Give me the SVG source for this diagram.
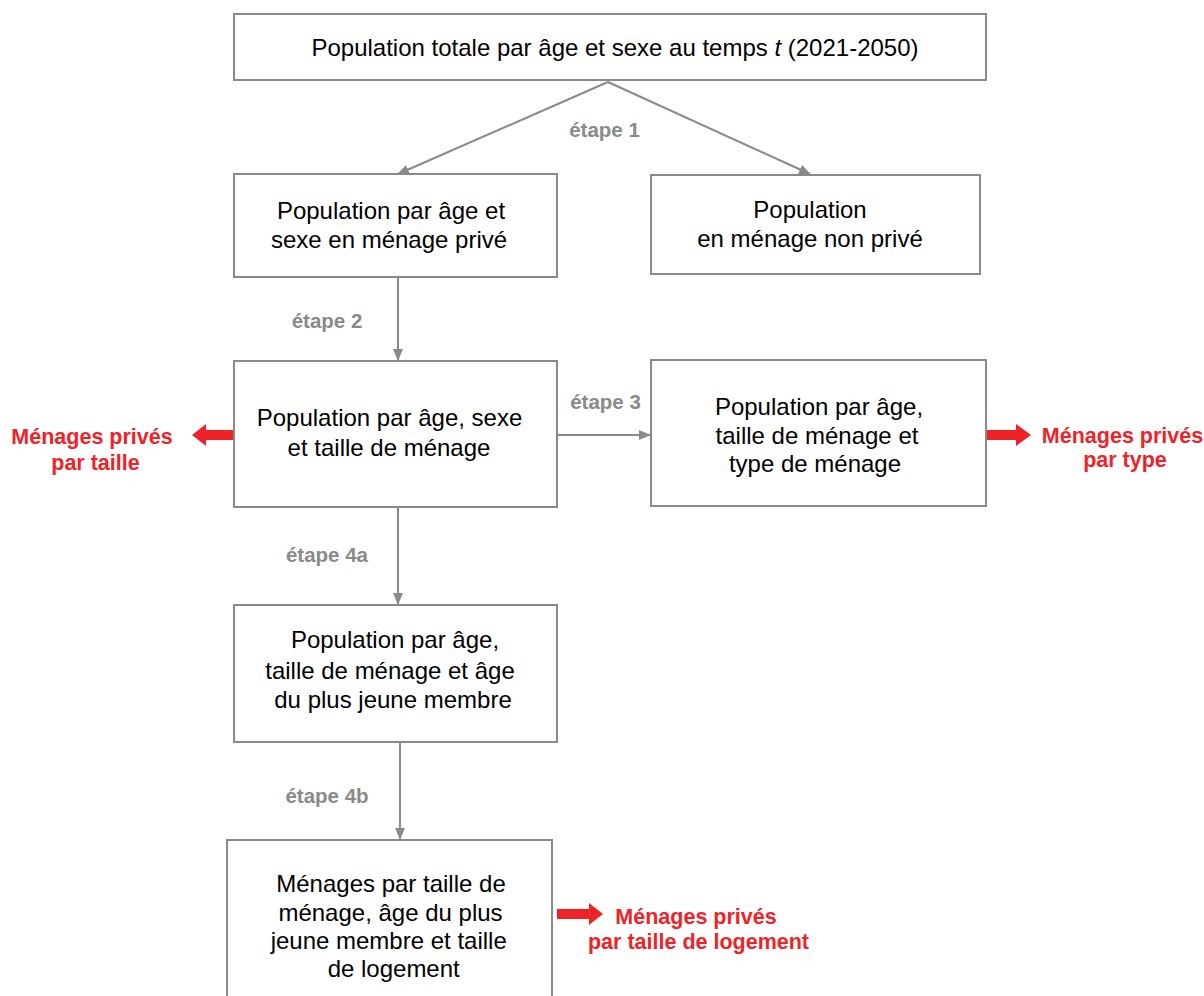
<svg xmlns="http://www.w3.org/2000/svg" width="1204" height="996" viewBox="0 0 1204 996">
<style>
.box{fill:#fff;stroke:#8a8a8a;stroke-width:2}
.t{font-family:"Liberation Sans",Arial,sans-serif;font-size:24px;fill:#000;text-anchor:middle}
.lbl{font-family:"Liberation Sans",Arial,sans-serif;font-size:20.5px;font-weight:bold;fill:#8a8a8a;text-anchor:middle}
.red{font-family:"Liberation Sans",Arial,sans-serif;font-size:21.5px;font-weight:bold;fill:#ee2328;text-anchor:middle}
.conn{stroke:#8a8a8a;stroke-width:2;fill:none;marker-end:url(#ah)}
.rarr{fill:#ee2328}
</style>
<defs>
<marker id="ah" markerWidth="12" markerHeight="10" refX="11" refY="5" orient="auto" markerUnits="userSpaceOnUse">
<path d="M0,0 L12,5 L0,10 z" fill="#8a8a8a"/>
</marker>
</defs>
<rect width="1204" height="996" fill="#fff"/>
<g id="connectors">
<path class="conn" d="M608,82 L398,174"/>
<path class="conn" d="M608,82 L810,174"/>
<path class="conn" d="M398,277 L398,360"/>
<path class="conn" d="M557,435 L650,435"/>
<path class="conn" d="M398,507 L398,604"/>
<path class="conn" d="M400,742 L400,839"/>
<text class="lbl" x="604.5" y="137">étape 1</text>
<text class="lbl" x="327" y="328">étape 2</text>
<text class="lbl" x="605.5" y="409">étape 3</text>
<text class="lbl" x="327" y="562">étape 4a</text>
<text class="lbl" x="327" y="803">étape 4b</text>
<path class="rarr" d="M234,430 L206,430 L206,424 L192,435 L206,446 L206,440 L234,440 z"/>
<path class="rarr" d="M986,430 L1016,430 L1016,424 L1031,435 L1016,446 L1016,440 L986,440 z"/>
<path class="rarr" d="M557,909 L589,909 L589,903 L603,914 L589,925 L589,919 L557,919 z"/>
</g>
<g id="n_total">
<rect class="box" x="234" y="14" width="752" height="66"/>
<text class="t" x="615" y="55.5">Population totale par âge et sexe au temps <tspan font-style="italic">t</tspan> (2021-2050)</text>
</g>
<g id="n_prive">
<rect class="box" x="234" y="174" width="323" height="103"/>
<text class="t" x="391" y="219">Population par âge et</text>
<text class="t" x="389" y="248">sexe en ménage privé</text>
</g>
<g id="n_nonprive">
<rect class="box" x="651" y="175" width="329" height="99"/>
<text class="t" x="810" y="218">Population</text>
<text class="t" x="810" y="247">en ménage non privé</text>
</g>
<g id="n_taille">
<rect class="box" x="234" y="361" width="323" height="146"/>
<text class="t" x="389.5" y="426">Population par âge, sexe</text>
<text class="t" x="389" y="456">et taille de ménage</text>
</g>
<g id="out_taille">
<text class="red" x="92" y="443.5">Ménages privés</text>
<text class="red" x="95.5" y="469.5">par taille</text>
</g>
<g id="n_type">
<rect class="box" x="651" y="360" width="335" height="146"/>
<text class="t" x="819" y="415">Population par âge,</text>
<text class="t" x="817" y="444">taille de ménage et</text>
<text class="t" x="815" y="472">type de ménage</text>
</g>
<g id="out_type">
<text class="red" x="1122.5" y="443">Ménages privés</text>
<text class="red" x="1125" y="467">par type</text>
</g>
<g id="n_jeune">
<rect class="box" x="234" y="605" width="323" height="137"/>
<text class="t" x="395" y="648">Population par âge,</text>
<text class="t" x="390" y="679">taille de ménage et âge</text>
<text class="t" x="393" y="708">du plus jeune membre</text>
</g>
<g id="n_logement">
<rect class="box" x="227" y="840" width="325" height="170"/>
<text class="t" x="391" y="892">Ménages par taille de</text>
<text class="t" x="390.5" y="921">ménage, âge du plus</text>
<text class="t" x="388.7" y="949">jeune membre et taille</text>
<text class="t" x="393.7" y="977">de logement</text>
</g>
<g id="out_logement">
<text class="red" x="696" y="924">Ménages privés</text>
<text class="red" x="698.5" y="949">par taille de logement</text>
</g>
</svg>
